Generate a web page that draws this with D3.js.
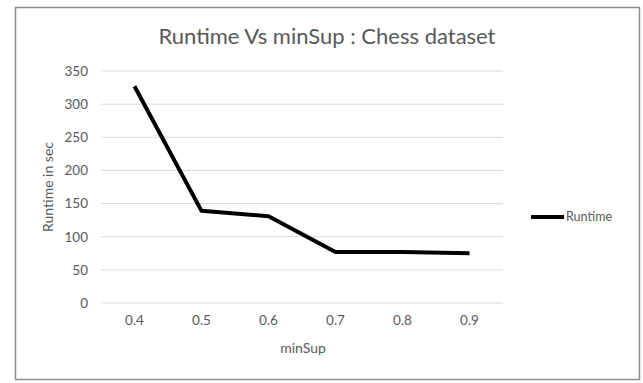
<!DOCTYPE html>
<html>
<head>
<meta charset="utf-8">
<script src="https://cdn.jsdelivr.net/npm/d3@7"></script>
<style>
  body { margin: 0; background: #fff; }
  text { font-family: Lato, "Open Sans", sans-serif; fill: #595959; }
</style>
</head>
<body>
<div id="chart-area"></div>
<script>
var minSup = ["0.4", "0.5", "0.6", "0.7", "0.8", "0.9"];
var runtime = [327, 139, 131, 77, 77, 75];
var yTicks = [0, 50, 100, 150, 200, 250, 300, 350];

const MARGIN = { LEFT: 101, RIGHT: 140, TOP: 71, BOTTOM: 80 }
const WIDTH = 643 - MARGIN.LEFT - MARGIN.RIGHT
const HEIGHT = 383 - MARGIN.TOP - MARGIN.BOTTOM

const svg = d3.select("#chart-area").append("svg")
            .attr("width", 643)
            .attr("height", 383)

// chart frame
svg.append("rect")
  .attr("x", 15.5).attr("y", 7.5)
  .attr("width", 624).attr("height", 372)
  .attr("fill", "#fff")
  .attr("stroke", "#8c8c8c")
  .attr("stroke-width", 1.5)

const g = svg.append("g")
       .attr("transform", `translate(${MARGIN.LEFT}, ${MARGIN.TOP})`)

var xScale = d3.scaleBand()
               .domain(minSup)
               .range([0, WIDTH]);

var yScale = d3.scaleLinear()
               .domain([0, 350])
               .range([HEIGHT, 0]);

// gridlines
g.selectAll(".grid").data(yTicks).enter().append("line")
  .attr("x1", 0).attr("x2", WIDTH)
  .attr("y1", d => yScale(d)).attr("y2", d => yScale(d))
  .attr("stroke", "#d9d9d9")
  .attr("stroke-width", 1)

var yAxis = g.append("g")
  .call(d3.axisLeft(yScale).tickValues(yTicks).tickSize(0).tickPadding(13));
yAxis.select(".domain").remove();
yAxis.selectAll("text").style("font-size", "13.5px").attr("fill", "#595959");

var xAxis = g.append("g")
  .attr("transform", "translate(0," + HEIGHT + ")")
  .call(d3.axisBottom(xScale).tickSize(0).tickPadding(12));
xAxis.select(".domain").remove();
xAxis.selectAll("text").style("font-size", "13.5px").attr("fill", "#595959");

var lineGenerator = d3.line()
                      .x((d, i) => xScale(minSup[i]) + xScale.bandwidth() / 2)
                      .y(d => yScale(d));

g.append("path")
  .attr("fill", "none")
  .attr("stroke", "#000")
  .attr("stroke-width", 4)
  .attr("stroke-linejoin", "round")
  .attr("d", lineGenerator(runtime));

// title
svg.append("text")
  .attr("x", 327).attr("y", 44)
  .attr("text-anchor", "middle")
  .style("font-size", "22px")
  .text("Runtime Vs minSup : Chess dataset");

// axis titles
svg.append("text")
  .attr("x", 303).attr("y", 353)
  .attr("text-anchor", "middle")
  .style("font-size", "14px")
  .text("minSup");

svg.append("text")
  .attr("transform", "translate(53,187) rotate(-90)")
  .attr("text-anchor", "middle")
  .style("font-size", "14px")
  .text("Runtime in sec");

// legend
svg.append("line")
  .attr("x1", 531).attr("x2", 564)
  .attr("y1", 217).attr("y2", 217)
  .attr("stroke", "#000").attr("stroke-width", 4);
svg.append("text")
  .attr("x", 566).attr("y", 221)
  .style("font-size", "12.5px")
  .text("Runtime");
</script>
</body>
</html>
